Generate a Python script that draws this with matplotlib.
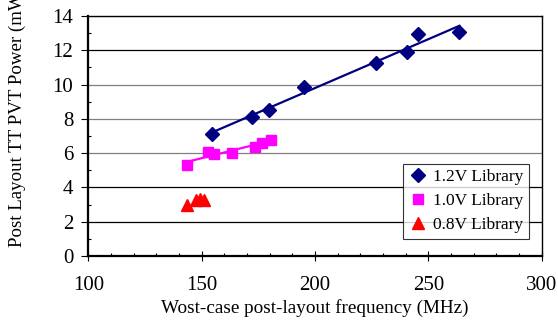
import numpy as np
import matplotlib
matplotlib.use('Agg')
import matplotlib.pyplot as plt
from matplotlib.ticker import MultipleLocator

plt.rcParams['font.family'] = ['Liberation Serif', 'DejaVu Serif']

# 1.2V library
f_12 = [154.4, 172.2, 179.8, 195.0, 226.8, 240.5, 245.3, 263.7]
p_12 = [7.12, 8.13, 8.52, 9.84, 11.28, 11.92, 12.93, 13.07]
# 1.0V library
f_10 = [143.4, 152.7, 155.6, 163.3, 173.5, 176.5, 180.5]
p_10 = [5.31, 6.08, 5.95, 6.03, 6.35, 6.62, 6.78]
# 0.8V library
f_08 = [143.7, 147.4, 149.3, 151.0]
p_08 = [2.97, 3.27, 3.31, 3.27]

labels = ['1.2V Library', '1.0V Library', '0.8V Library']

fig = plt.figure(figsize=(5.58, 3.24), dpi=100)
ax = fig.add_axes([0.1582, 0.2099, 0.8126, 0.7407])

# linear trend lines (Excel style)
for f, p, c in [(f_12, p_12, '#000080'), (f_10, p_10, '#FF00FF')]:
    k, b = np.polyfit(f, p, 1)
    xs = np.array([min(f), max(f)])
    ax.plot(xs, k * xs + b, color=c, lw=1.6, zorder=3)

ax.plot(f_12, p_12, 'D', color='#000080', ms=6.8, ls='none', label=labels[0], zorder=4)
ax.plot(f_10, p_10, 's', color='#FF00FF', ms=7, ls='none', label=labels[1], zorder=4)
ax.plot(f_08, p_08, '^', color='#FF0000', ms=8, ls='none', label=labels[2], zorder=4)

ax.set_xlim(100, 300)
ax.set_ylim(0, 14)
ax.xaxis.set_major_locator(MultipleLocator(50))
ax.xaxis.set_minor_locator(MultipleLocator(10))
ax.yaxis.set_major_locator(MultipleLocator(2))
ax.yaxis.set_minor_locator(MultipleLocator(1))

ax.tick_params(axis='x', which='major', direction='inout', length=7, width=0.8,
               labelsize=15, pad=11)
ax.tick_params(axis='x', which='minor', direction='in', length=2.5, width=0.8)
ax.tick_params(axis='y', which='major', direction='out', length=4.8, width=0.8,
               labelsize=15, pad=6)
ax.tick_params(axis='y', which='minor', direction='in', length=2.5, width=0.8)

ax.yaxis.grid(True, which='major', lw=0.9)
grid_cols = ['black', '#808080', 'black', 'black', '#808080', '#808080', '#808080', 'black']
for gl, c in zip(ax.get_ygridlines(), grid_cols):
    gl.set_color(c)
ax.set_axisbelow(True)

for s in ['left', 'bottom']:
    ax.spines[s].set_linewidth(1.6)
for s in ['top', 'right']:
    ax.spines[s].set_linewidth(1.0)

ax.set_xlabel('Wost-case post-layout frequency (MHz)', fontsize=13.8, labelpad=3)
# the label runs past the top edge of the figure, as in the original
fig.text(17 / 558, 1 - 247 / 324, 'Post Layout TT PVT Power (mW)', rotation=90,
         ha='center', va='bottom', fontsize=13.6)

leg = ax.legend(loc='upper left', bbox_to_anchor=(0.694, 0.383), borderaxespad=0,
                fontsize=12.5, frameon=True, fancybox=False, handlelength=1.1,
                handletextpad=0.35, labelspacing=0.45, borderpad=0.3)
leg.get_frame().set_edgecolor('black')
leg.get_frame().set_linewidth(0.8)

fig.savefig('out.png', dpi=100)
